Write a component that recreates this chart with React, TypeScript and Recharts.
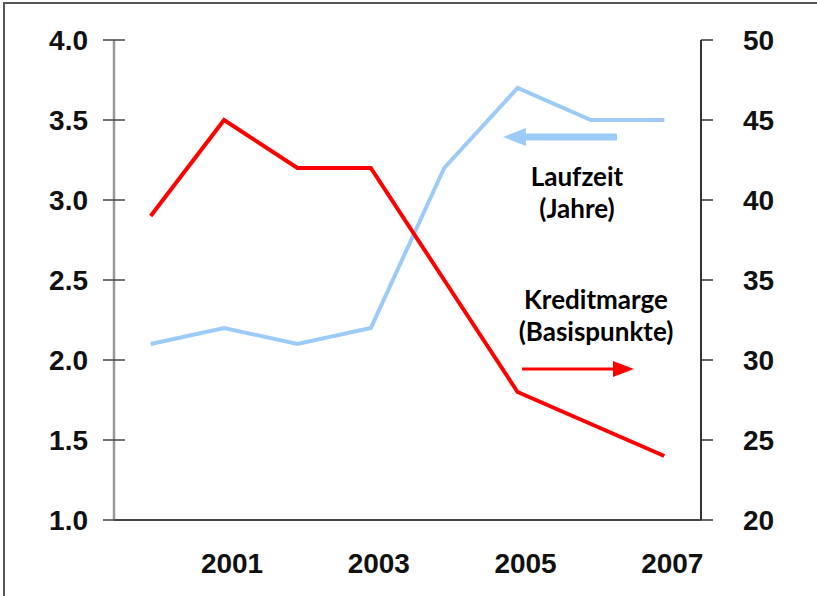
import { LineChart, Line, XAxis, YAxis } from "recharts";

const years = [2000, 2001, 2002, 2003, 2004, 2005, 2006, 2007];
const laufzeit = [2.1, 2.2, 2.1, 2.2, 3.2, 3.7, 3.5, 3.5];
const kreditmarge = [39, 45, 42, 42, 35, 28, 26, 24];

const yearLabels = [2001, 2003, 2005, 2007];
const bandEdges = [1999.5, 2000.5, 2001.5, 2002.5, 2003.5, 2004.5, 2005.5, 2006.5, 2007.5];
const leftTicks = [1.0, 1.5, 2.0, 2.5, 3.0, 3.5, 4.0];
const rightTicks = [20, 25, 30, 35, 40, 45, 50];

const data = years.map((year, i) => ({
  year,
  laufzeit: laufzeit[i],
  kreditmarge: kreditmarge[i],
}));

const BLUE = "#9dcbf7";
const RED = "#ff0000";
const axisFont = {
  fontFamily: "'Liberation Sans', Arial, sans-serif",
  fontWeight: 700,
  fontSize: 28,
  fill: "#111",
};
const noteFont = {
  fontFamily: "Lato, 'Open Sans', sans-serif",
  fontWeight: 700,
  fontSize: 26,
  fill: "#000",
};

// left ticks cross the axis line on both sides
function LeftTick(props: any) {
  const { x, y, payload } = props;
  const axisX = x + 11 + 15;
  return (
    <g>
      <line x1={axisX} x2={axisX + 11} y1={y} y2={y} stroke="#444" strokeWidth={1.5} />
      <text x={x} y={y} dy="0.36em" textAnchor="end" {...axisFont}>
        {Number(payload.value).toFixed(1)}
      </text>
    </g>
  );
}

export default function App() {
  return (
    <div style={{ position: "absolute", left: 0, top: 0, width: 817, height: 596, background: "#fff" }}>
      <div
        style={{
          position: "absolute",
          left: 3,
          top: 2,
          width: 817,
          height: 600,
          borderLeft: "2px solid #555",
          borderTop: "2px solid #555",
        }}
      />
      <LineChart
        width={817}
        height={596}
        data={data}
        margin={{ top: 40, right: 0, bottom: 0, left: 0 }}
        style={{ position: "absolute", left: 0, top: 0 }}
      >
        <XAxis
          xAxisId="edges"
          dataKey="year"
          type="number"
          domain={[1999.5, 2007.5]}
          ticks={bandEdges}
          interval={0}
          tick={false}
          tickSize={8}
          height={28}
          axisLine={{ stroke: "#444", strokeWidth: 2 }}
          tickLine={{ stroke: "#444", strokeWidth: 1.5 }}
        />
        <XAxis
          xAxisId="labels"
          dataKey="year"
          type="number"
          domain={[1999.5, 2007.5]}
          ticks={yearLabels}
          interval={0}
          axisLine={false}
          tickLine={false}
          tickSize={0}
          tickMargin={5}
          height={48}
          tick={{ ...axisFont, dx: 8 }}
        />
        <YAxis
          yAxisId="left"
          orientation="left"
          width={114}
          domain={[1, 4]}
          ticks={leftTicks}
          interval={0}
          tickSize={11}
          tickMargin={15}
          axisLine={{ stroke: "#999", strokeWidth: 2.5 }}
          tickLine={{ stroke: "#444", strokeWidth: 1.5 }}
          tick={<LeftTick />}
        />
        <YAxis
          yAxisId="right"
          orientation="right"
          width={116}
          domain={[20, 50]}
          ticks={rightTicks}
          interval={0}
          tickSize={12}
          tickMargin={30}
          axisLine={{ stroke: "#333", strokeWidth: 2 }}
          tickLine={{ stroke: "#333", strokeWidth: 1.5 }}
          tick={axisFont}
        />
        <Line
          xAxisId="edges"
          yAxisId="left"
          dataKey="laufzeit"
          type="linear"
          stroke={BLUE}
          strokeWidth={4}
          dot={false}
          isAnimationActive={false}
        />
        <Line
          xAxisId="edges"
          yAxisId="right"
          dataKey="kreditmarge"
          type="linear"
          stroke={RED}
          strokeWidth={4}
          dot={false}
          isAnimationActive={false}
        />
      </LineChart>
      <svg
        width={817}
        height={596}
        style={{ position: "absolute", left: 0, top: 0, pointerEvents: "none" }}
      >
        <line x1={617} x2={520} y1={137} y2={137} stroke={BLUE} strokeWidth={7} />
        <polygon points="503,137 526,128 526,146" fill={BLUE} />
        <text x={577} y={186} textAnchor="middle" {...noteFont}>Laufzeit</text>
        <text x={577} y={218} textAnchor="middle" {...noteFont}>(Jahre)</text>
        <text x={596} y={309} textAnchor="middle" {...noteFont}>Kreditmarge</text>
        <text x={596} y={341} textAnchor="middle" {...noteFont}>(Basispunkte)</text>
        <line x1={522} x2={616} y1={369} y2={369} stroke={RED} strokeWidth={3} />
        <polygon points="634,369 613,361 613,377" fill={RED} />
      </svg>
    </div>
  );
}
